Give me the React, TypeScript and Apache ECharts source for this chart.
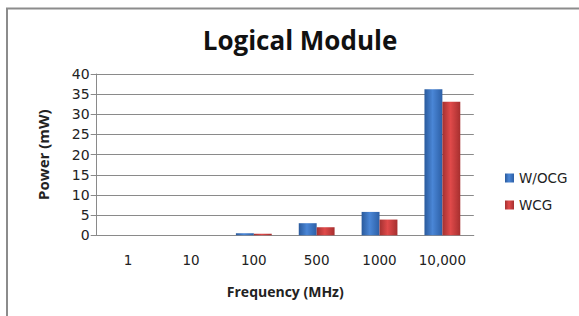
import React, { useEffect, useRef } from "react";
import * as echarts from "echarts";

const categories = ["1", "10", "100", "500", "1000", "10,000"];
const seriesNames = ["W/OCG", "WCG"];
const woOcg = [0, 0, 0.5, 3.0, 5.8, 36.2];
const wcg = [0, 0, 0.4, 2.0, 3.9, 33.1];
const yMin = 0;
const yMax = 40;
const yStep = 5;

const blueGrad = new echarts.graphic.LinearGradient(0, 0, 1, 0, [
  { offset: 0, color: "#2a5a9c" },
  { offset: 0.45, color: "#4a86d6" },
  { offset: 1, color: "#2c5fa6" },
]);
const redGrad = new echarts.graphic.LinearGradient(0, 0, 1, 0, [
  { offset: 0, color: "#a33131" },
  { offset: 0.45, color: "#e04a4a" },
  { offset: 1, color: "#a62f2f" },
]);

export default function App() {
  const ref = useRef<HTMLDivElement>(null);
  useEffect(() => {
    if (!ref.current) return;
    const chart = echarts.init(ref.current, undefined, { renderer: "svg" });
    chart.setOption({
      animation: false,
      backgroundColor: "#ffffff",
      title: {
        text: "Logical Module",
        left: 295,
        textAlign: "center",
        top: 22,
        textStyle: {
          fontFamily: "Open Sans",
          fontWeight: "bold",
          fontSize: 26,
          color: "#111",
        },
      },
      graphic: [
        {
          type: "rect",
          shape: { x: 7, y: 8.5, width: 600, height: 400 },
          style: { fill: "none", stroke: "#8c8c8c", lineWidth: 2 },
          silent: true,
        },
      ],
      legend: {
        orient: "vertical",
        left: 500,
        top: 166,
        itemWidth: 9,
        itemHeight: 9,
        itemGap: 13,
        icon: "rect",
        data: seriesNames,
        textStyle: { fontFamily: "DejaVu Sans", fontSize: 13.5, color: "#222" },
      },
      grid: { left: 96.7, right: 105.2, top: 74, bottom: 80.7 },
      xAxis: {
        type: "category",
        data: categories,
        name: "Frequency (MHz)",
        nameLocation: "middle",
        nameGap: 49,
        nameTextStyle: {
          fontFamily: "Open Sans",
          fontWeight: "bold",
          fontSize: 14,
          color: "#222",
        },
        axisLine: { lineStyle: { color: "#8a8a8a", width: 1 } },
        axisTick: { show: false },
        axisLabel: {
          margin: 18,
          fontFamily: "DejaVu Sans",
          fontSize: 13.5,
          color: "#222",
        },
      },
      yAxis: {
        type: "value",
        min: yMin,
        max: yMax,
        interval: yStep,
        name: "Power (mW)",
        nameLocation: "middle",
        nameGap: 46,
        nameTextStyle: {
          fontFamily: "Open Sans",
          fontWeight: "bold",
          fontSize: 15,
          color: "#222",
        },
        axisLine: { show: true, lineStyle: { color: "#8a8a8a", width: 1 } },
        axisTick: { show: true, length: 6, lineStyle: { color: "#8a8a8a" } },
        splitLine: { lineStyle: { color: "#8a8a8a", width: 1 } },
        axisLabel: {
          margin: 7,
          fontFamily: "DejaVu Sans",
          fontSize: 14,
          color: "#222",
        },
      },
      series: [
        {
          name: seriesNames[0],
          type: "bar",
          data: woOcg,
          barGap: "0%",
          barCategoryGap: "43%",
          itemStyle: { color: blueGrad },
        },
        {
          name: seriesNames[1],
          type: "bar",
          data: wcg,
          barGap: "0%",
          barCategoryGap: "43%",
          itemStyle: { color: redGrad },
        },
      ],
    });
    return () => chart.dispose();
  }, []);
  return (
    <div
      ref={ref}
      style={{ position: "fixed", left: 0, top: 0, width: 579, height: 316 }}
    />
  );
}
